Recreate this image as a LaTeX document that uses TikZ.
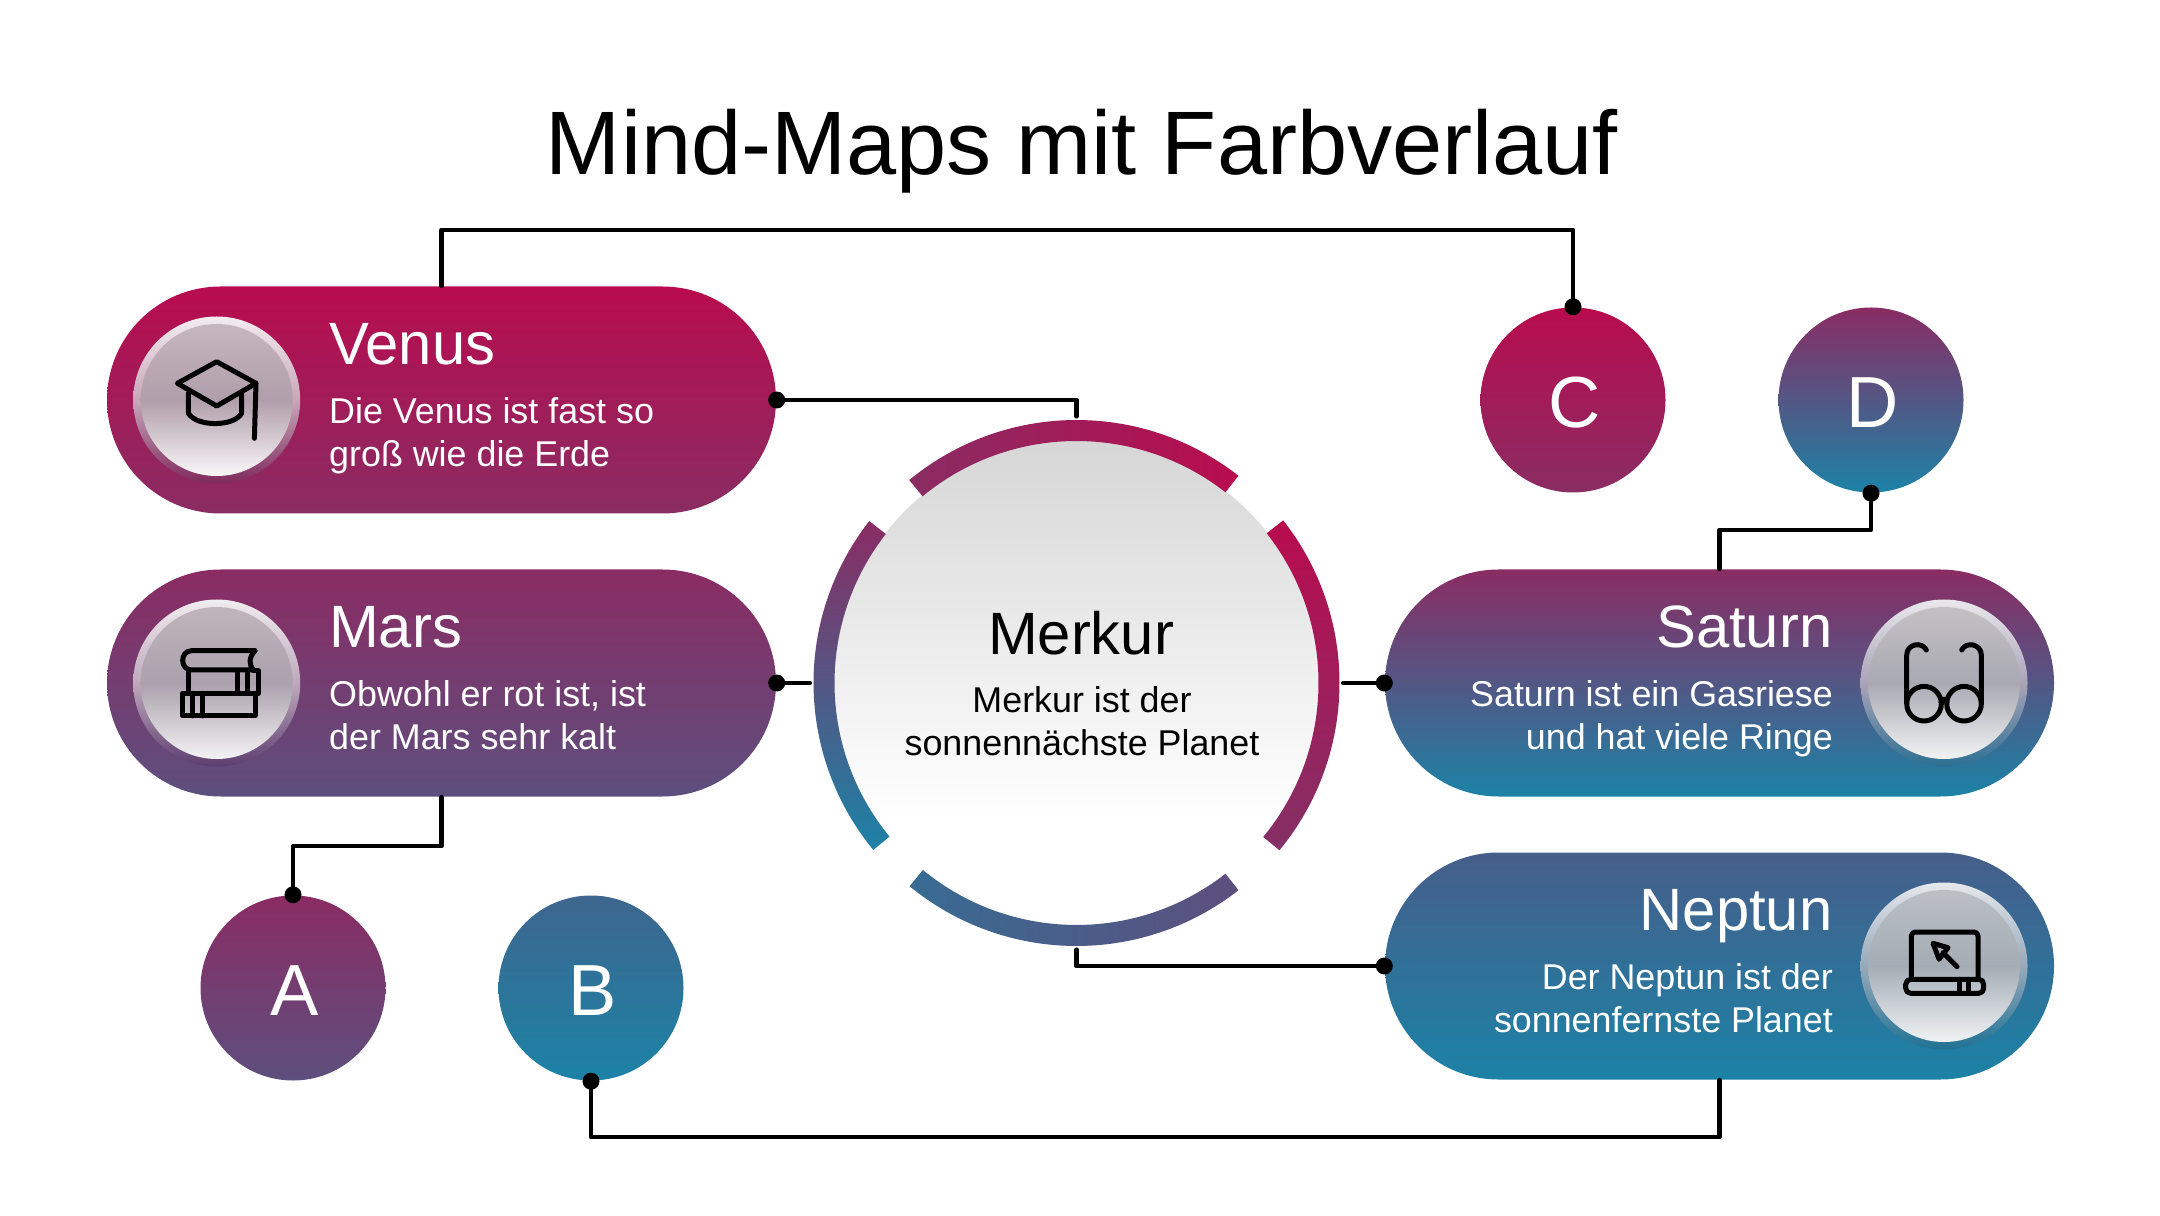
\documentclass[tikz,border=0pt]{standalone}
\usepackage{fontspec}
\setmainfont{Liberation Sans}
\usepackage{pgf,tikz}
\definecolor{crimson}{HTML}{B80C4E}
\definecolor{plum}{HTML}{8A2C63}
\definecolor{violet}{HTML}{5D4F7E}
\definecolor{steel}{HTML}{465E8A}
\definecolor{ocean}{HTML}{3E668E}
\definecolor{teal}{HTML}{1C82A6}
\definecolor{discgrey}{HTML}{D6D6D6}
\definecolor{redrimtop}{HTML}{F3ECEF}
\definecolor{redrimmid}{HTML}{C8A6B8}
\definecolor{redrimlow}{HTML}{7E2A5C}
\definecolor{redcaptop}{HTML}{C6B6BE}
\definecolor{redcapmid}{HTML}{B09EAA}
\definecolor{redcaplow}{HTML}{FAF7F8}
\definecolor{purrimtop}{HTML}{F0ECEF}
\definecolor{purrimmid}{HTML}{BFA8BC}
\definecolor{purrimlow}{HTML}{5C3E6F}
\definecolor{purcaptop}{HTML}{C0B5BC}
\definecolor{purcapmid}{HTML}{ABA1AC}
\definecolor{purcaplow}{HTML}{F4F2F4}
\definecolor{satrimtop}{HTML}{EAE8EC}
\definecolor{satrimmid}{HTML}{A9A3B8}
\definecolor{satrimlow}{HTML}{2C6F92}
\definecolor{satcaptop}{HTML}{C4C1C5}
\definecolor{satcapmid}{HTML}{A9A9B2}
\definecolor{satcaplow}{HTML}{F1F3F4}
\definecolor{neprimtop}{HTML}{E5E8EC}
\definecolor{neprimmid}{HTML}{98A9BA}
\definecolor{neprimlow}{HTML}{1F7294}
\definecolor{nepcaptop}{HTML}{BCC0C5}
\definecolor{nepcapmid}{HTML}{A4ACB5}
\definecolor{nepcaplow}{HTML}{F0F3F5}
\pgfdeclareverticalshading{discfade}{100bp}{color(0bp)=(white); color(36bp)=(white); color(75bp)=(discgrey); color(100bp)=(discgrey)}
\begin{document}
\begin{tikzpicture}[line cap=round,line join=round,x=1.0cm,y=1.0cm,
    pill/.style n args={2}{rectangle,rounded corners=1.135cm,minimum width=6.69cm,minimum height=2.27cm,inner sep=0pt,top color=#1,bottom color=#2},
    ball/.style n args={2}{circle,minimum size=1.85cm,inner sep=0pt,top color=#1,bottom color=#2,text=white,text height=15.6pt,font=\fontsize{20.6}{24}\selectfont,execute at begin node=\kern0.8pt},
    rim/.style n args={3}{circle,minimum size=1.67cm,inner sep=0pt,top color=#1,bottom color=#3,middle color=#2},
    cap/.style n args={3}{circle,minimum size=1.52cm,inner sep=0pt,top color=#1,bottom color=#3,middle color=#2},
    head/.style={font=\fontsize{17}{20}\selectfont,inner sep=0pt},
    body/.style={font=\fontsize{10.2}{12.2}\selectfont,inner sep=0pt},
    conn/.style={line width=0.045cm,black},
    icon/.style={line width=0.05cm,black}]
    \useasboundingbox (0.,0.) rectangle (21.6,12.15);
    \node [font=\fontsize{25.65}{30}\selectfont,inner sep=0pt,anchor=base] (title) at (10.82,10.40) {Mind-Maps mit Farbverlauf};
    \node [pill={crimson}{plum}] (venus) at (4.415,8.15) {};
    \node [pill={plum}{violet}] (mars) at (4.415,5.32) {};
    \node [pill={plum}{teal}] (saturn) at (17.195,5.32) {};
    \node [pill={steel}{teal}] (neptun) at (17.195,2.49) {};
    \node [ball={plum}{violet}] (a) at (2.93,2.27) {A};
    \node [ball={ocean}{teal}] (b) at (5.91,2.27) {B};
    \node [ball={crimson}{plum}] (c) at (15.73,8.15) {C};
    \node [ball={plum}{teal}] (d) at (18.71,8.15) {D};
    \node [circle,minimum size=4.86cm,inner sep=0pt,shading=discfade] (merkur) at (10.765,5.32) {};
    \node [circle,minimum size=5.32cm,inner sep=0pt] (merkurring) at (10.765,5.32) {};
    \draw [conn] (venus.north) -- ++(0.,0.56) -| (c.north);
    \draw [conn] (venus.east) -| (merkurring.north);
    \draw [conn] (mars.east) -- (merkurring.west);
    \draw [conn] (mars.south) -- ++(0.,-0.49) -| (a.north);
    \draw [conn] (b.south) -- ++(0.,-0.56) -| (neptun.south);
    \draw [conn] (merkurring.south) |- (neptun.west);
    \draw [conn] (merkurring.east) -- (saturn.west);
    \draw [conn] (saturn.north) -- ++(0.,0.39) -| (d.south);
    \fill (c.north) circle (0.085);
    \fill (venus.east) circle (0.085);
    \fill (mars.east) circle (0.085);
    \fill (a.north) circle (0.085);
    \fill (b.south) circle (0.085);
    \fill (neptun.west) circle (0.085);
    \fill (saturn.west) circle (0.085);
    \fill (d.south) circle (0.085);
    \begin{scope}[shift={(merkur.center)}]
    \shade [left color=plum,right color=crimson] (52.:2.63) arc (52.:129.5:2.63) -- (129.5:2.42) arc (129.5:52.:2.42) -- cycle;
    \shade [top color=crimson,bottom color=plum!88!violet] (38.2:2.63) arc (38.2:-39.5:2.63) -- (-39.5:2.42) arc (-39.5:38.2:2.42) -- cycle;
    \shade [top color=plum,bottom color=teal] (142.:2.63) arc (142.:219.4:2.63) -- (219.4:2.42) arc (219.4:142.:2.42) -- cycle;
    \shade [left color=ocean!80!teal,right color=violet] (230.6:2.63) arc (230.6:308.:2.63) -- (308.:2.42) arc (308.:230.6:2.42) -- cycle;
    \end{scope}
    \node [rim={redrimtop}{redrimmid}{redrimlow}] (venusrim) at (2.167,8.15) {};
    \node [cap={redcaptop}{redcapmid}{redcaplow}] (venuscap) at (2.167,8.15) {};
    \node [rim={purrimtop}{purrimmid}{purrimlow}] (marsrim) at (2.167,5.32) {};
    \node [cap={purcaptop}{purcapmid}{purcaplow}] (marscap) at (2.167,5.32) {};
    \node [rim={satrimtop}{satrimmid}{satrimlow}] (saturnrim) at (19.44,5.32) {};
    \node [cap={satcaptop}{satcapmid}{satcaplow}] (saturncap) at (19.44,5.32) {};
    \node [rim={neprimtop}{neprimmid}{neprimlow}] (neptunrim) at (19.44,2.49) {};
    \node [cap={nepcaptop}{nepcapmid}{nepcaplow}] (neptuncap) at (19.44,2.49) {};
    \begin{scope}[shift={(venuscap.center)}]
    \draw [icon] (0.,0.383) -- (-0.393,0.167) -- (0.,-0.06) -- (0.393,0.167) -- cycle;
    \draw [icon] (-0.283,0.067) -- (-0.283,-0.133) .. controls (-0.2,-0.27) and (0.17,-0.27) .. (0.25,-0.133) -- (0.25,0.067);
    \draw [icon] (0.393,0.167) -- (0.377,-0.383);
    \end{scope}
    \begin{scope}[shift={(marscap.center)}]
    \draw [icon] (0.383,0.323) -- (-0.25,0.323) .. controls (-0.37,0.323) and (-0.37,0.13) .. (-0.25,0.13) -- (0.367,0.13);
    \draw [icon] (0.383,0.323) .. controls (0.32,0.25) and (0.32,0.19) .. (0.367,0.13);
    \draw [icon] (-0.283,0.13) -- (-0.283,-0.103);
    \draw [icon] (0.367,0.12) -- (0.417,0.12) -- (0.417,-0.103) -- (-0.343,-0.103) -- (-0.343,-0.33) -- (0.383,-0.33) -- (0.383,-0.103);
    \draw [icon] (0.21,0.12) -- (0.21,-0.103);
    \draw [icon] (0.31,0.12) -- (0.31,-0.103);
    \draw [icon] (-0.24,-0.103) -- (-0.24,-0.33);
    \draw [icon] (-0.14,-0.103) -- (-0.14,-0.33);
    \end{scope}
    \begin{scope}[shift={(saturncap.center)}]
    \draw [icon] (-0.2,-0.207) circle (0.173);
    \draw [icon] (0.2,-0.207) circle (0.173);
    \draw [icon] (-0.03,-0.19) .. controls (-0.01,-0.15) and (0.01,-0.15) .. (0.03,-0.19);
    \draw [icon] (-0.373,-0.2) -- (-0.373,0.28) .. controls (-0.373,0.39) and (-0.22,0.42) .. (-0.177,0.33);
    \draw [icon] (0.373,-0.2) -- (0.373,0.28) .. controls (0.373,0.39) and (0.22,0.42) .. (0.177,0.33);
    \end{scope}
    \begin{scope}[shift={(neptuncap.center)}]
    \draw [icon,rounded corners=0.04cm] (-0.327,-0.133) -- (-0.327,0.34) -- (0.34,0.34) -- (0.34,-0.133);
    \draw [icon,rounded corners=0.05cm] (-0.383,-0.133) rectangle (0.397,-0.273);
    \draw [icon] (0.157,-0.133) -- (0.157,-0.273);
    \draw [icon] (0.24,-0.133) -- (0.24,-0.273);
    \draw [icon] (-0.11,0.227) -- (0.04,0.183) -- (-0.05,0.067) -- cycle;
    \draw [icon] (-0.01,0.133) -- (0.13,-0.007);
    \end{scope}
    \node [head,text=white,anchor=base west] (venustitle) at (3.285,8.507) {Venus};
    \node [body,text=white,anchor=base west,align=left] (venustext) at (3.285,7.482) {Die Venus ist fast so\\groß wie die Erde};
    \node [head,text=white,anchor=base west] (marstitle) at (3.285,5.677) {Mars};
    \node [body,text=white,anchor=base west,align=left] (marstext) at (3.285,4.652) {Obwohl er rot ist, ist\\der Mars sehr kalt};
    \node [head,text=white,anchor=base east] (saturntitle) at (18.33,5.677) {Saturn};
    \node [body,text=white,anchor=base east,align=right] (saturntext) at (18.335,4.652) {Saturn ist ein Gasriese\\und hat viele Ringe};
    \node [head,text=white,anchor=base east] (neptuntitle) at (18.33,2.847) {Neptun};
    \node [body,text=white,anchor=base east,align=right] (neptuntext) at (18.335,1.822) {Der Neptun ist der\\sonnenfernste Planet};
    \node [head,anchor=base] (merkurtitle) at (10.81,5.607) {Merkur};
    \node [body,anchor=base,align=center] (merkurtext) at (10.82,4.597) {Merkur ist der\\sonnennächste Planet};
\end{tikzpicture}
\end{document}
